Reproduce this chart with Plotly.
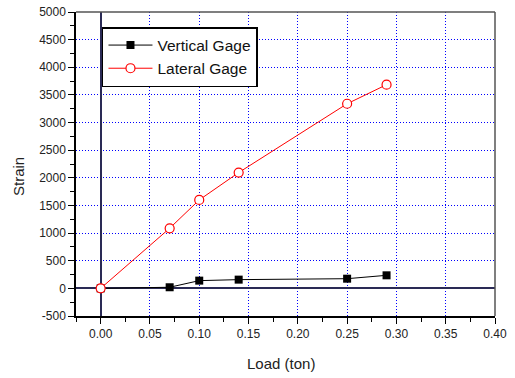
import plotly.graph_objects as go

load = [0.0, 0.07, 0.10, 0.14, 0.25, 0.29]
vertical = [0, 20, 140, 158, 175, 236]
lateral = [0, 1087, 1600, 2095, 3340, 3685]

x_ticks = [0.0, 0.05, 0.10, 0.15, 0.20, 0.25, 0.30, 0.35, 0.40]
x_tick_labels = ["0.00", "0.05", "0.10", "0.15", "0.20", "0.25", "0.30", "0.35", "0.40"]
y_ticks = [-500, 0, 500, 1000, 1500, 2000, 2500, 3000, 3500, 4000, 4500, 5000]
y_tick_labels = ["-500", "0", "500", "1000", "1500", "2000", "2500", "3000", "3500", "4000", "4500", "5000"]

font = "Liberation Sans, Arial, sans-serif"

fig = go.Figure()
fig.add_trace(go.Scatter(
    x=load, y=vertical, name="Vertical Gage", mode="lines+markers",
    line=dict(color="black", width=1),
    marker=dict(symbol="square", size=8, color="black"),
))
fig.add_trace(go.Scatter(
    x=load, y=lateral, name="Lateral Gage", mode="lines+markers",
    line=dict(color="red", width=1),
    marker=dict(symbol="circle", size=9, color="white", line=dict(color="red", width=1.2)),
))

fig.update_layout(
    width=515, height=378,
    margin=dict(l=76, r=20, t=12, b=62),
    plot_bgcolor="white", paper_bgcolor="white",
    font=dict(family=font, size=12, color="#222"),
    showlegend=True,
    legend=dict(
        x=0.062, y=(316 - 27) / 304, xanchor="left", yanchor="top",
        bordercolor="black", borderwidth=1.5, bgcolor="white",
        font=dict(size=15.5, color="#111"), tracegroupgap=0,
        itemwidth=44,
    ),
    xaxis=dict(
        range=[-0.025, 0.40], tickvals=x_ticks, ticktext=x_tick_labels,
        automargin=False,
        showgrid=True, gridcolor="blue", griddash="1px,2px", gridwidth=1,
        zeroline=True, zerolinecolor="#2a2a55", zerolinewidth=2,
        showline=True, linecolor="black", linewidth=1.5, mirror=False,
        ticks="outside", ticklen=6, tickcolor="black",
        minor=dict(dtick=0.025, tick0=0, ticks="outside", ticklen=4, tickcolor="black", showgrid=False),
        tickfont=dict(size=12),
    ),
    yaxis=dict(
        range=[-500, 5000], tickvals=y_ticks, ticktext=y_tick_labels,
        automargin=False,
        showgrid=True, gridcolor="blue", griddash="1px,2px", gridwidth=1,
        zeroline=True, zerolinecolor="#2a2a55", zerolinewidth=2,
        showline=True, linecolor="black", linewidth=1.5, mirror=False,
        ticks="outside", ticklen=6, tickcolor="black",
        minor=dict(dtick=250, tick0=0, ticks="outside", ticklen=4, tickcolor="black", showgrid=False),
        tickfont=dict(size=12),
    ),
    shapes=[
        dict(type="line", xref="paper", yref="paper", x0=0, x1=1, y0=1, y1=1,
             line=dict(color="#555", width=1.5)),
        dict(type="line", xref="paper", yref="paper", x0=1, x1=1, y0=0, y1=1,
             line=dict(color="#555", width=1.5)),
    ],
    annotations=[
        dict(text="Load (ton)", xref="paper", yref="paper", x=(281 - 76) / 419, y=-(363 - 316) / 304,
             xanchor="center", yanchor="middle", showarrow=False, font=dict(size=15, color="#222")),
        dict(text="Strain", xref="paper", yref="paper", x=-(76 - 18) / 419, y=(316 - 177) / 304,
             xanchor="center", yanchor="middle", showarrow=False, textangle=-90,
             font=dict(size=15, color="#222")),
    ],
)

# remove the default 8px page margin so the figure fills the window exactly
fig.write_html(
    "out.html",
    config={"displayModeBar": False},
    post_script="document.body.style.margin='0';document.body.style.overflow='hidden';",
)
